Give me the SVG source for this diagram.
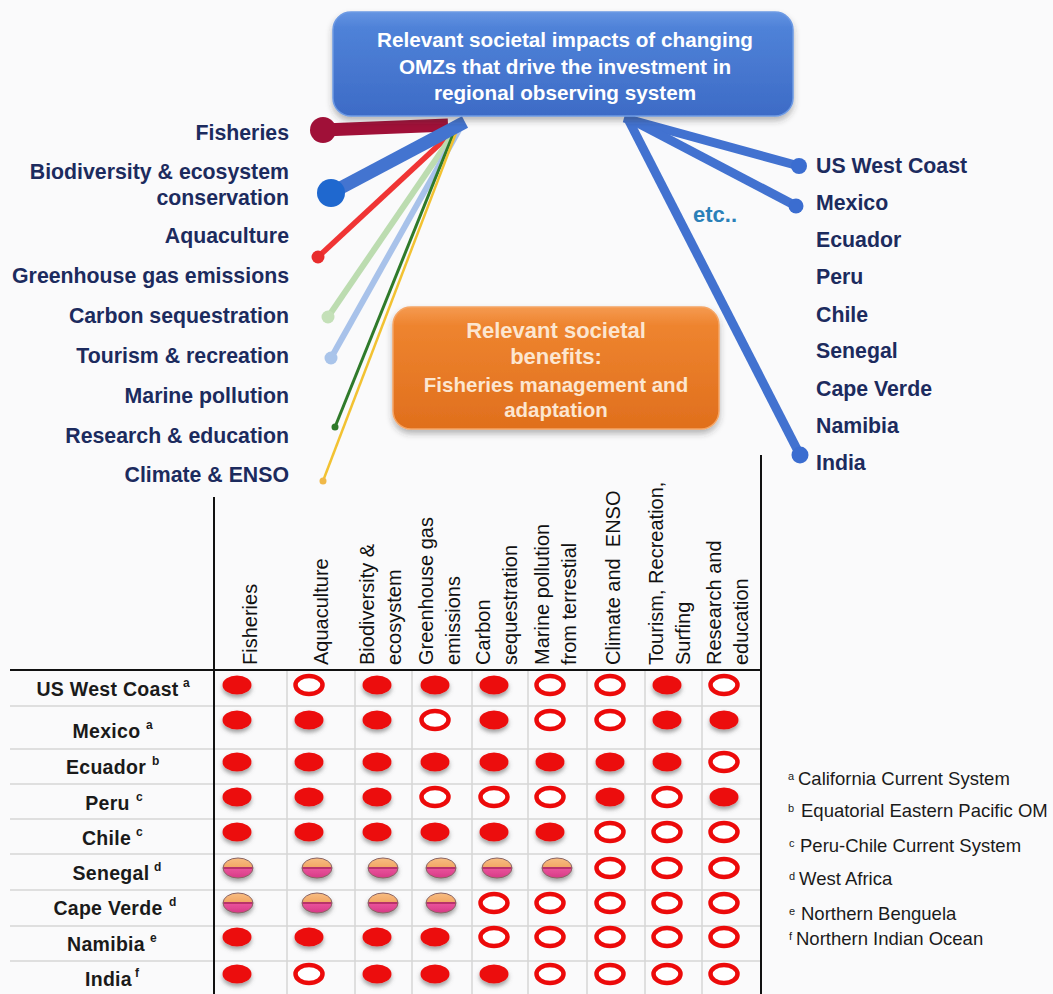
<svg xmlns="http://www.w3.org/2000/svg" width="1053" height="994" viewBox="0 0 1053 994">
<style>
text{font-family:"Liberation Sans",Arial,sans-serif}
.lbl{font-size:21.3px;font-weight:bold;fill:#1c2b5e}
.lft{text-anchor:end}
.box1{font-size:20.7px;font-weight:bold;fill:#ffffff;text-anchor:middle}
.box2{font-weight:bold;fill:#fce6d0;text-anchor:middle}
.col{font-size:20px;fill:#111}
.row{font-size:19.5px;font-weight:bold;fill:#1a1a1a;text-anchor:middle;letter-spacing:0.3px}
.sup{font-size:12px;fill:#1a1a1a;font-weight:bold}
.fn{font-size:18.5px;fill:#1a1a1a}
.fns{font-size:11px;fill:#1a1a1a}
.grid{stroke:#d6d6d6;stroke-width:1.5}
.blk{stroke:#111;stroke-width:2}
</style>
<defs>
<filter id="sh" x="-50%" y="-50%" width="200%" height="200%">
<feDropShadow dx="0" dy="3" stdDeviation="2" flood-color="#555" flood-opacity="0.55"/>
</filter>
<filter id="bsh" x="-10%" y="-20%" width="120%" height="150%">
<feDropShadow dx="0" dy="4" stdDeviation="3" flood-color="#333" flood-opacity="0.35"/>
</filter>
<linearGradient id="gBlue" x1="0" y1="0" x2="0" y2="1">
<stop offset="0" stop-color="#6494e2"/>
<stop offset="0.15" stop-color="#4f82d8"/>
<stop offset="1" stop-color="#3d6bc6"/>
</linearGradient>
<linearGradient id="gOrange" x1="0" y1="0" x2="0" y2="1">
<stop offset="0" stop-color="#f59a50"/>
<stop offset="0.15" stop-color="#ee842f"/>
<stop offset="1" stop-color="#e06f1d"/>
</linearGradient>
<linearGradient id="gStripe" x1="0" y1="0" x2="0" y2="1">
<stop offset="0" stop-color="#f7bd82"/>
<stop offset="0.46" stop-color="#f2a766"/>
<stop offset="0.47" stop-color="#b8306a"/>
<stop offset="0.55" stop-color="#b8306a"/>
<stop offset="0.56" stop-color="#e8509a"/>
<stop offset="1" stop-color="#d73a86"/>
</linearGradient>
<ellipse id="dF" cx="0" cy="0" rx="14.5" ry="9.5" fill="#ec0a0a" filter="url(#sh)"/>
<ellipse id="dO" cx="0" cy="0" rx="13.5" ry="9" fill="#ffffff" stroke="#ec0a0a" stroke-width="4.5"/>
<ellipse id="dS" cx="0" cy="0" rx="15" ry="10" fill="url(#gStripe)" stroke="#8a6464" stroke-width="1" filter="url(#sh)"/>
</defs>
<rect x="0" y="0" width="1053" height="994" fill="#fafafb"/>

<g id="connectors">
<line x1="323" y1="130" x2="448" y2="125" stroke="#a01038" stroke-width="13"/>
<circle cx="323" cy="130" r="13" fill="#a01038"/>
<line x1="318" y1="257" x2="457" y2="128" stroke="#f03434" stroke-width="5.5"/>
<circle cx="318" cy="257" r="6.5" fill="#e82c2c"/>
<line x1="328" y1="317" x2="456" y2="130" stroke="#bcdcb0" stroke-width="6"/>
<circle cx="328" cy="317" r="6.5" fill="#c4e0b8"/>
<line x1="331" y1="358" x2="459" y2="130" stroke="#a8c2ea" stroke-width="6"/>
<circle cx="331" cy="358" r="6.5" fill="#a9c4ea"/>
<line x1="335" y1="427" x2="454" y2="132" stroke="#2f7a2a" stroke-width="3"/>
<circle cx="335" cy="427" r="3.5" fill="#2f7a2a"/>
<line x1="323" y1="481" x2="456" y2="133" stroke="#f2c232" stroke-width="2.5"/>
<circle cx="323" cy="481" r="3.5" fill="#f0b848"/>
<line x1="331" y1="193" x2="465" y2="122" stroke="#4374d0" stroke-width="13"/>
<circle cx="331" cy="193" r="14" fill="#1f68cf"/>
<line x1="624" y1="118" x2="799" y2="166" stroke="#4272d0" stroke-width="9"/>
<circle cx="799" cy="166" r="8" fill="#3b6dd0"/>
<line x1="632" y1="120" x2="796" y2="206" stroke="#4272d0" stroke-width="9"/>
<circle cx="796" cy="206" r="7.5" fill="#3b6dd0"/>
<line x1="628" y1="119" x2="800" y2="455" stroke="#4272d0" stroke-width="9"/>
<circle cx="800" cy="455" r="8.5" fill="#3b6dd0"/>
</g>

<g id="impacts-box">
<rect x="333" y="12" width="460" height="104" rx="18" fill="url(#gBlue)" stroke="#6d9ae4" stroke-width="1.5" filter="url(#bsh)"/>
<text class="box1" x="565" y="47">Relevant societal impacts of changing</text>
<text class="box1" x="565" y="74">OMZs that drive the investment in</text>
<text class="box1" x="565" y="100">regional observing system</text>
</g>

<g id="benefits-box">
<rect x="393" y="307" width="326" height="122" rx="18" fill="url(#gOrange)" stroke="#f5a565" stroke-width="1.5" filter="url(#bsh)"/>
<text class="box2" x="556" y="338" font-size="22">Relevant societal</text>
<text class="box2" x="556" y="364" font-size="22">benefits:</text>
<text class="box2" x="556" y="392" font-size="20.5">Fisheries management and</text>
<text class="box2" x="556" y="417" font-size="20.5">adaptation</text>
</g>

<g id="impact-labels">
<g id="lbl-fisheries"><text class="lbl lft" x="289" y="140">Fisheries</text></g>
<g id="lbl-biodiversity"><text class="lbl lft" x="289" y="179">Biodiversity &amp; ecosystem</text><text class="lbl lft" x="289" y="205">conservation</text></g>
<g id="lbl-aquaculture"><text class="lbl lft" x="289" y="243">Aquaculture</text></g>
<g id="lbl-greenhouse"><text class="lbl lft" x="289" y="283">Greenhouse gas emissions</text></g>
<g id="lbl-carbon"><text class="lbl lft" x="289" y="323">Carbon sequestration</text></g>
<g id="lbl-tourism"><text class="lbl lft" x="289" y="363">Tourism &amp; recreation</text></g>
<g id="lbl-pollution"><text class="lbl lft" x="289" y="403">Marine pollution</text></g>
<g id="lbl-research"><text class="lbl lft" x="289" y="443">Research &amp; education</text></g>
<g id="lbl-climate"><text class="lbl lft" x="289" y="482">Climate &amp; ENSO</text></g>
</g>

<g id="region-labels">
<g id="r-us"><text class="lbl" x="816" y="173">US West Coast</text></g>
<g id="r-mexico"><text class="lbl" x="816" y="210">Mexico</text></g>
<g id="r-ecuador"><text class="lbl" x="816" y="247">Ecuador</text></g>
<g id="r-peru"><text class="lbl" x="816" y="284">Peru</text></g>
<g id="r-chile"><text class="lbl" x="816" y="322">Chile</text></g>
<g id="r-senegal"><text class="lbl" x="816" y="358">Senegal</text></g>
<g id="r-capeverde"><text class="lbl" x="816" y="396">Cape Verde</text></g>
<g id="r-namibia"><text class="lbl" x="816" y="433">Namibia</text></g>
<g id="r-india"><text class="lbl" x="816" y="470">India</text></g>
<g id="etc"><text x="693" y="222" font-size="22" font-weight="bold" fill="#2a80b8">etc..</text></g>
</g>

<g id="table">
<g id="grid-lines">
<line class="grid" x1="10" y1="706" x2="761" y2="706"/>
<line class="grid" x1="10" y1="749" x2="761" y2="749"/>
<line class="grid" x1="10" y1="784" x2="761" y2="784"/>
<line class="grid" x1="10" y1="819" x2="761" y2="819"/>
<line class="grid" x1="10" y1="854" x2="761" y2="854"/>
<line class="grid" x1="10" y1="890" x2="761" y2="890"/>
<line class="grid" x1="10" y1="926" x2="761" y2="926"/>
<line class="grid" x1="10" y1="961" x2="761" y2="961"/>
<line class="grid" x1="287" y1="670" x2="287" y2="994"/>
<line class="grid" x1="355" y1="670" x2="355" y2="994"/>
<line class="grid" x1="412" y1="670" x2="412" y2="994"/>
<line class="grid" x1="472" y1="670" x2="472" y2="994"/>
<line class="grid" x1="528" y1="670" x2="528" y2="994"/>
<line class="grid" x1="587" y1="670" x2="587" y2="994"/>
<line class="grid" x1="645" y1="670" x2="645" y2="994"/>
<line class="grid" x1="702" y1="670" x2="702" y2="994"/>
<line class="blk" x1="10" y1="670" x2="762" y2="670"/>
<line class="blk" x1="214" y1="497" x2="214" y2="994"/>
<line class="blk" x1="761" y1="455" x2="761" y2="994"/>
</g>
<g id="col-headers">
<text class="col" transform="translate(257,665) rotate(-90)">Fisheries</text>
<text class="col" transform="translate(328,665) rotate(-90)">Aquaculture</text>
<text class="col" transform="translate(374,665) rotate(-90)">Biodiversity &amp;</text>
<text class="col" transform="translate(401,665) rotate(-90)">ecosystem</text>
<text class="col" transform="translate(433,665) rotate(-90)">Greenhouse gas</text>
<text class="col" transform="translate(460,665) rotate(-90)">emissions</text>
<text class="col" transform="translate(490,665) rotate(-90)">Carbon</text>
<text class="col" transform="translate(517,665) rotate(-90)">sequestration</text>
<text class="col" transform="translate(549,665) rotate(-90)">Marine pollution</text>
<text class="col" transform="translate(576,665) rotate(-90)">from terrestial</text>
<text class="col" transform="translate(620,665) rotate(-90)" xml:space="preserve">Climate and  ENSO</text>
<text class="col" transform="translate(663,665) rotate(-90)">Tourism, Recreation,</text>
<text class="col" transform="translate(690,665) rotate(-90)">Surfing</text>
<text class="col" transform="translate(721,665) rotate(-90)">Research and</text>
<text class="col" transform="translate(748,665) rotate(-90)">education</text>
</g>
<g id="row-labels">
<text class="row" x="107.5" y="696">US West Coast</text><text class="sup" x="183" y="687">a</text>
<text class="row" x="106.5" y="738">Mexico</text><text class="sup" x="146" y="729">a</text>
<text class="row" x="106" y="774">Ecuador</text><text class="sup" x="152" y="765">b</text>
<text class="row" x="107.5" y="810">Peru</text><text class="sup" x="136" y="801">c</text>
<text class="row" x="106.5" y="845">Chile</text><text class="sup" x="136" y="836">c</text>
<text class="row" x="111" y="880">Senegal</text><text class="sup" x="154" y="871">d</text>
<text class="row" x="108" y="915">Cape Verde</text><text class="sup" x="169" y="906">d</text>
<text class="row" x="106" y="951">Namibia</text><text class="sup" x="150" y="942">e</text>
<text class="row" x="108.5" y="986">India</text><text class="sup" x="135" y="977">f</text>
</g>
<g id="cells">
<use href="#dF" x="237" y="685"/><use href="#dO" x="309" y="685"/><use href="#dF" x="377" y="685"/><use href="#dF" x="435" y="685"/><use href="#dF" x="494" y="685"/><use href="#dO" x="550" y="685"/><use href="#dO" x="610" y="685"/><use href="#dF" x="667" y="685"/><use href="#dO" x="724" y="685"/>
<use href="#dF" x="237" y="720"/><use href="#dF" x="309" y="720"/><use href="#dF" x="377" y="720"/><use href="#dO" x="435" y="720"/><use href="#dF" x="494" y="720"/><use href="#dO" x="550" y="720"/><use href="#dO" x="610" y="720"/><use href="#dF" x="667" y="720"/><use href="#dF" x="724" y="720"/>
<use href="#dF" x="237" y="762"/><use href="#dF" x="309" y="762"/><use href="#dF" x="377" y="762"/><use href="#dF" x="435" y="762"/><use href="#dF" x="494" y="762"/><use href="#dF" x="550" y="762"/><use href="#dF" x="610" y="762"/><use href="#dF" x="667" y="762"/><use href="#dO" x="724" y="762"/>
<use href="#dF" x="237" y="797"/><use href="#dF" x="309" y="797"/><use href="#dF" x="377" y="797"/><use href="#dO" x="435" y="797"/><use href="#dO" x="494" y="797"/><use href="#dO" x="550" y="797"/><use href="#dF" x="610" y="797"/><use href="#dO" x="667" y="797"/><use href="#dF" x="724" y="797"/>
<use href="#dF" x="237" y="832"/><use href="#dF" x="309" y="832"/><use href="#dF" x="377" y="832"/><use href="#dF" x="435" y="832"/><use href="#dF" x="494" y="832"/><use href="#dF" x="550" y="832"/><use href="#dO" x="610" y="832"/><use href="#dO" x="667" y="832"/><use href="#dO" x="724" y="832"/>
<use href="#dS" x="238" y="868"/><use href="#dS" x="317" y="868"/><use href="#dS" x="383" y="868"/><use href="#dS" x="441" y="868"/><use href="#dS" x="497" y="868"/><use href="#dS" x="557" y="868"/><use href="#dO" x="610" y="868"/><use href="#dO" x="667" y="868"/><use href="#dO" x="724" y="868"/>
<use href="#dS" x="238" y="903"/><use href="#dS" x="317" y="903"/><use href="#dS" x="383" y="903"/><use href="#dS" x="441" y="903"/><use href="#dO" x="494" y="903"/><use href="#dO" x="550" y="903"/><use href="#dO" x="610" y="903"/><use href="#dO" x="667" y="903"/><use href="#dO" x="724" y="903"/>
<use href="#dF" x="237" y="937"/><use href="#dF" x="309" y="937"/><use href="#dF" x="377" y="937"/><use href="#dF" x="435" y="937"/><use href="#dO" x="494" y="937"/><use href="#dO" x="550" y="937"/><use href="#dO" x="610" y="937"/><use href="#dO" x="667" y="937"/><use href="#dO" x="724" y="937"/>
<use href="#dF" x="237" y="974"/><use href="#dO" x="309" y="974"/><use href="#dF" x="377" y="974"/><use href="#dF" x="435" y="974"/><use href="#dF" x="494" y="974"/><use href="#dO" x="550" y="974"/><use href="#dO" x="610" y="974"/><use href="#dO" x="667" y="974"/><use href="#dO" x="724" y="974"/>
</g>
</g>

<g id="footnotes">
<text class="fns" x="788" y="780">a</text><text class="fn" x="798" y="785">California Current System</text>
<text class="fns" x="788" y="812">b</text><text class="fn" x="801" y="817">Equatorial Eastern Pacific OM</text>
<text class="fns" x="789" y="847">c</text><text class="fn" x="800" y="852">Peru-Chile Current System</text>
<text class="fns" x="789" y="880">d</text><text class="fn" x="799" y="885">West Africa</text>
<text class="fns" x="789" y="915">e</text><text class="fn" x="801" y="920">Northern Benguela</text>
<text class="fns" x="789" y="940">f</text><text class="fn" x="796" y="945">Northern Indian Ocean</text>
</g>
</svg>
